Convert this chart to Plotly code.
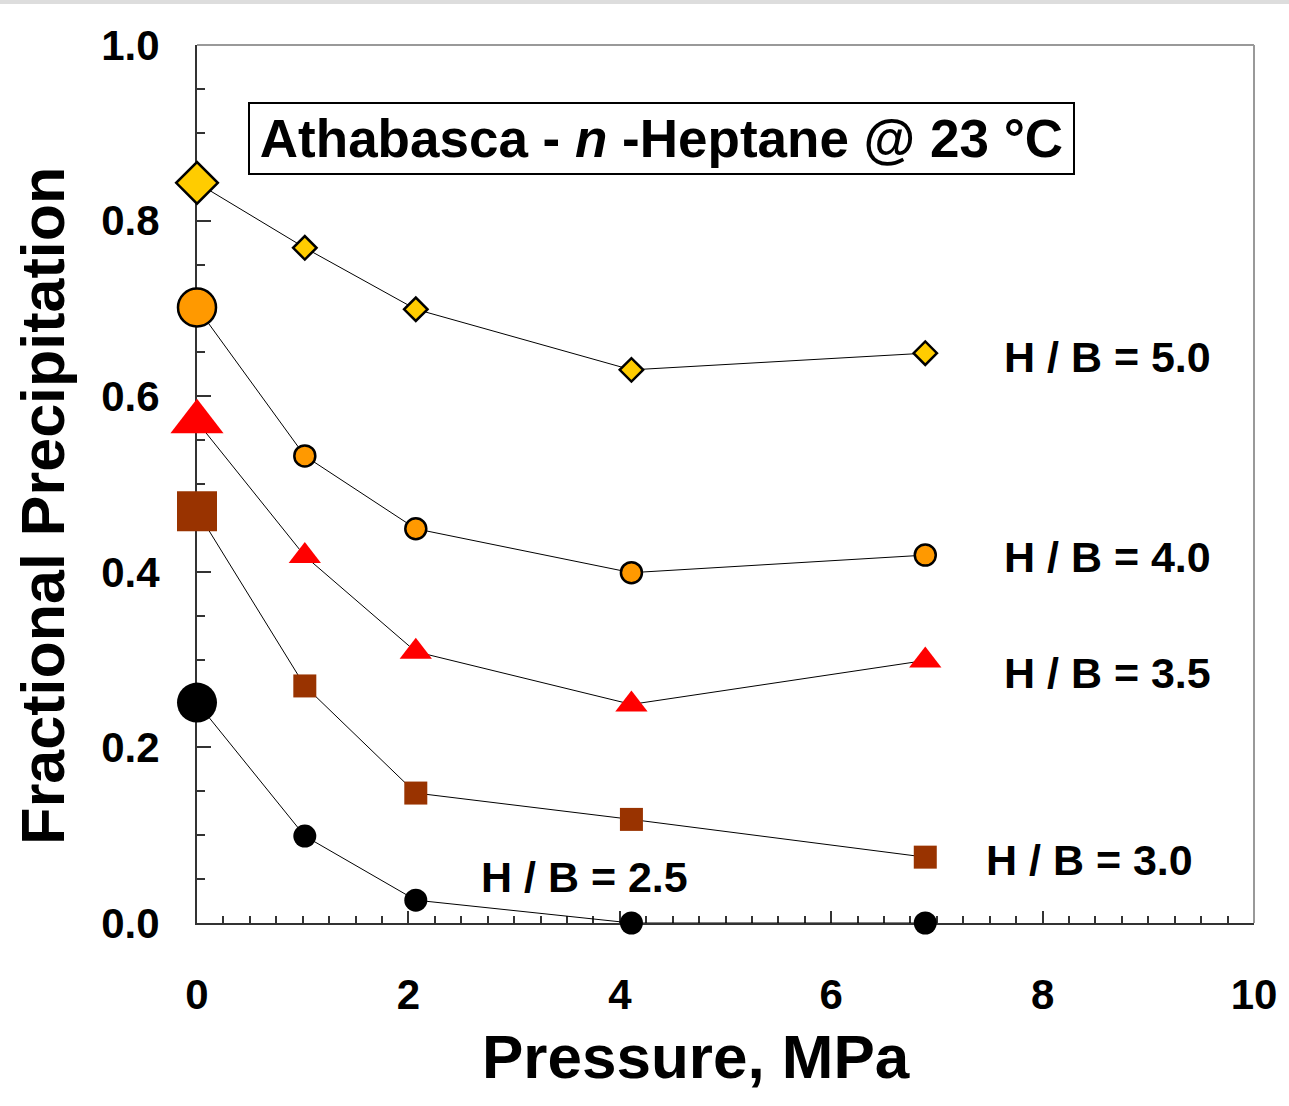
import plotly.graph_objects as go

# Pressure steps (MPa) and fractional precipitation for each H/B ratio
pressure = [0.0, 1.02, 2.07, 4.11, 6.89]
hb_ratios = ["5.0", "4.0", "3.5", "3.0", "2.5"]
frac_hb50 = [0.843, 0.769, 0.699, 0.630, 0.649]
frac_hb40 = [0.701, 0.532, 0.449, 0.399, 0.419]
frac_hb35 = [0.571, 0.418, 0.309, 0.249, 0.299]
frac_hb30 = [0.469, 0.270, 0.148, 0.118, 0.075]
frac_hb25 = [0.251, 0.099, 0.026, 0.000, 0.000]

x_ticks = [0, 2, 4, 6, 8, 10]
y_ticks = [0.0, 0.2, 0.4, 0.6, 0.8, 1.0]

FONT = "Liberation Sans, Arial, sans-serif"
AXIS = "#333333"

series = [
    # values, symbol, fill, outline width, big size, small size
    (frac_hb50, "diamond", "#FFCC00", 2.5, 32, 18),
    (frac_hb40, "circle", "#FF9900", 2.5, 38, 21),
    (frac_hb35, "triangle-up", "#FF0000", 0, 46, 28),
    (frac_hb30, "square", "#993300", 0, 40, 23),
    (frac_hb25, "circle", "#000000", 0, 40, 23),
]

fig = go.Figure()
for vals, sym, color, lw, big, small in series:
    fig.add_trace(go.Scatter(
        x=pressure, y=vals, mode="lines+markers",
        line=dict(color="#000000", width=1),
        marker=dict(symbol=sym, color=color, opacity=1,
                    size=[big] + [small] * (len(vals) - 1),
                    line=dict(color="#000000", width=lw)),
        cliponaxis=False, showlegend=False,
    ))

# H/B labels beside the curves
label_pos = [(7.62, 0.645), (7.62, 0.417), (7.62, 0.285), (7.45, 0.072), (2.67, 0.052)]
for ratio, (lx, ly) in zip(hb_ratios, label_pos):
    fig.add_annotation(x=lx, y=ly, xref="x", yref="y", text=f"H / B = {ratio}",
                       showarrow=False, xanchor="left", yanchor="middle",
                       font=dict(family=FONT, size=43, color="#000000", weight=700))

# Boxed title inside the plot
fig.add_annotation(x=0.4393, y=0.8935, xref="paper", yref="paper",
                   text="Athabasca - <i>n</i> -Heptane @ 23 °C",
                   showarrow=False, xanchor="center", yanchor="middle",
                   width=823, height=69, borderpad=0,
                   bordercolor="#000000", borderwidth=2, bgcolor="#FFFFFF",
                   font=dict(family=FONT, size=53, color="#000000", weight=700))

# Axis titles
fig.add_annotation(x=0.4718, y=-0.152, xref="paper", yref="paper",
                   text="Pressure, MPa", showarrow=False,
                   xanchor="center", yanchor="middle",
                   font=dict(family=FONT, size=62, color="#000000", weight=700))
fig.add_annotation(x=-0.146, y=0.475, xref="paper", yref="paper",
                   text="Fractional Precipitation", showarrow=False, textangle=-90,
                   xanchor="center", yanchor="middle",
                   font=dict(family=FONT, size=61, color="#000000", weight=700))

# Grey top and right frame lines, thin grey strip along the page top
fig.add_shape(type="line", xref="paper", yref="paper", x0=0, x1=1, y0=1, y1=1,
              line=dict(color="#999999", width=2), layer="below")
fig.add_shape(type="line", xref="paper", yref="paper", x0=1, x1=1, y0=0, y1=1,
              line=dict(color="#999999", width=2), layer="below")
fig.add_shape(type="rect", xref="paper", yref="paper", x0=-0.2, x1=1.05,
              y0=(923 - 4) / 878, y1=923 / 878 + 0.01,
              line=dict(width=0), fillcolor="#DDDDDD", layer="below")

tick_font = dict(family=FONT, size=42, color="#000000", weight=700)
fig.update_xaxes(range=[0, 10], tickvals=x_ticks, ticktext=[str(v) for v in x_ticks],
                 ticks="inside", ticklen=12, tickwidth=2, tickcolor=AXIS,
                 minor=dict(dtick=0.25, ticks="inside", ticklen=7, tickwidth=1.5, tickcolor=AXIS),
                 showline=True, linecolor=AXIS, linewidth=2, showgrid=False, zeroline=False,
                 tickfont=tick_font, ticklabelstandoff=34, layer="below traces")
fig.update_yaxes(range=[0, 1], tickvals=y_ticks, ticktext=[f"{v:.1f}" for v in y_ticks],
                 ticks="inside", ticklen=14, tickwidth=2, tickcolor=AXIS,
                 minor=dict(dtick=0.05, ticks="inside", ticklen=8, tickwidth=1.5, tickcolor=AXIS),
                 showline=True, linecolor=AXIS, linewidth=2, showgrid=False, zeroline=False,
                 tickfont=tick_font, ticklabelstandoff=27, layer="below traces")

fig.update_layout(width=1289, height=1106, margin=dict(l=197, r=27, t=45, b=183),
                  plot_bgcolor="#FFFFFF", paper_bgcolor="#FFFFFF")

fig.write_html("out.html")
